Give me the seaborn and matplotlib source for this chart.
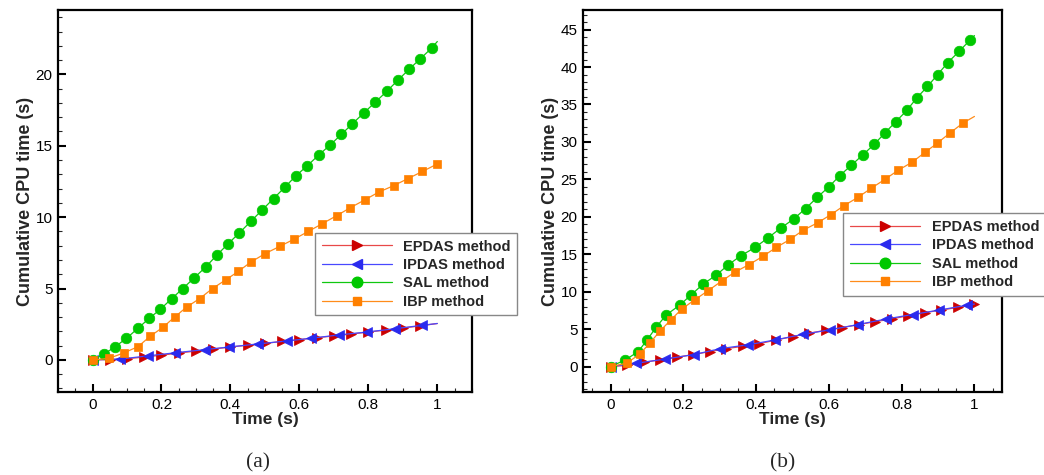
import numpy as np
import pandas as pd
import matplotlib
matplotlib.use("Agg")
import matplotlib.pyplot as plt
from matplotlib.ticker import MultipleLocator, FuncFormatter
from matplotlib.lines import Line2D
import seaborn as sns

# ---------------- data: panel (a) ----------------
a_epdas_t = [0, 0.05, 0.1, 0.15, 0.2, 0.25, 0.3, 0.35, 0.4, 0.45, 0.5, 0.55, 0.6, 0.65,
             0.7, 0.75, 0.8, 0.85, 0.9, 0.95, 1.0]
a_epdas_y = [0, 0.02, 0.08, 0.2, 0.33, 0.48, 0.62, 0.76, 0.9, 1.03, 1.16, 1.29, 1.42, 1.55,
             1.68, 1.81, 1.95, 2.09, 2.23, 2.38, 2.55]
a_ipdas_t = [0, 0.081, 0.16, 0.24, 0.325, 0.395, 0.48, 0.565, 0.635, 0.715, 0.795, 0.876, 0.955, 1.0]
a_ipdas_y = [0, 0.06, 0.28, 0.5, 0.72, 0.9, 1.12, 1.33, 1.52, 1.75, 1.95, 2.18, 2.42, 2.55]
a_sal_t = [0, 0.033, 0.066, 0.098, 0.131, 0.164, 0.197, 0.230, 0.262, 0.295, 0.328, 0.361,
           0.394, 0.426, 0.459, 0.492, 0.525, 0.558, 0.590, 0.623, 0.656, 0.689, 0.722, 0.754,
           0.787, 0.820, 0.853, 0.886, 0.918, 0.951, 0.984, 1.0]
a_sal_y = [0, 0.4, 0.93, 1.5, 2.2, 2.9, 3.55, 4.3, 5.0, 5.75, 6.5, 7.35, 8.15, 8.9, 9.7, 10.5,
           11.3, 12.1, 12.9, 13.6, 14.35, 15.05, 15.8, 16.55, 17.3, 18.05, 18.8, 19.6, 20.35,
           21.1, 21.85, 22.3]
a_ibp_t = [0, 0.047, 0.092, 0.132, 0.167, 0.205, 0.238, 0.273, 0.311, 0.348, 0.386, 0.423,
           0.459, 0.501, 0.543, 0.584, 0.626, 0.667, 0.708, 0.747, 0.789, 0.830, 0.873, 0.915,
           0.957, 0.998]
a_ibp_y = [0, 0.1, 0.5, 0.93, 1.65, 2.3, 3.0, 3.7, 4.3, 5.0, 5.6, 6.2, 6.85, 7.45, 7.95, 8.45,
           9.0, 9.55, 10.1, 10.65, 11.2, 11.75, 12.2, 12.7, 13.2, 13.7]

# ---------------- data: panel (b) ----------------
b_epdas_t = [0, 0.045, 0.091, 0.136, 0.182, 0.227, 0.273, 0.318, 0.364, 0.409, 0.455, 0.5,
             0.545, 0.591, 0.636, 0.682, 0.727, 0.773, 0.818, 0.864, 0.909, 0.955, 1.0]
b_epdas_y = [0, 0.15, 0.55, 0.9, 1.25, 1.6, 2.0, 2.4, 2.7, 3.05, 3.55, 4.0, 4.45, 4.85, 5.2,
             5.6, 6.0, 6.35, 6.8, 7.2, 7.55, 7.9, 8.3]
b_ipdas_t = [0, 0.071, 0.150, 0.229, 0.302, 0.377, 0.452, 0.529, 0.602, 0.679, 0.757, 0.830,
             0.904, 0.980, 1.0]
b_ipdas_y = [0, 0.45, 1.0, 1.6, 2.4, 2.9, 3.55, 4.3, 4.9, 5.6, 6.35, 6.95, 7.55, 8.2, 8.35]
b_sal_t = [0, 0.041, 0.076, 0.101, 0.126, 0.153, 0.190, 0.222, 0.254, 0.290, 0.324, 0.358,
           0.397, 0.433, 0.468, 0.503, 0.536, 0.568, 0.600, 0.630, 0.662, 0.694, 0.725, 0.754,
           0.784, 0.814, 0.842, 0.871, 0.899, 0.927, 0.958, 0.988, 1.0]
b_sal_y = [0, 0.9, 2.0, 3.6, 5.3, 6.9, 8.2, 9.6, 11.0, 12.2, 13.6, 14.8, 15.9, 17.2, 18.5,
           19.7, 21.1, 22.6, 24.0, 25.5, 26.9, 28.3, 29.7, 31.2, 32.7, 34.2, 35.9, 37.4, 39.0,
           40.6, 42.1, 43.6, 44.2]
b_ibp_t = [0, 0.044, 0.080, 0.109, 0.136, 0.165, 0.196, 0.231, 0.267, 0.305, 0.341, 0.380,
           0.418, 0.455, 0.494, 0.529, 0.569, 0.606, 0.642, 0.680, 0.716, 0.754, 0.790, 0.829,
           0.864, 0.897, 0.933, 0.968, 1.0]
b_ibp_y = [0, 0.45, 1.65, 3.2, 4.75, 6.2, 7.7, 8.9, 10.1, 11.4, 12.6, 13.6, 14.7, 15.9, 17.0,
           18.2, 19.2, 20.3, 21.5, 22.6, 23.8, 25.0, 26.2, 27.3, 28.6, 29.8, 31.2, 32.5, 33.4]

labels = ["EPDAS method", "IPDAS method", "SAL method", "IBP method"]
x_ticks = [0, 0.2, 0.4, 0.6, 0.8, 1.0]
a_y_ticks = [0, 5, 10, 15, 20]
b_y_ticks = [0, 5, 10, 15, 20, 25, 30, 35, 40, 45]

# ---------------- style ----------------
sns.set_style("white")
plt.rcParams["font.family"] = ["Liberation Sans", "DejaVu Sans"]

styles = [
    dict(line="#e84848", mk="#cc0000", marker=">", ms=6.5),
    dict(line="#4848ff", mk="#2a2aee", marker="<", ms=6.5),
    dict(line="#10c810", mk="#00c800", marker="o", ms=7.6),
    dict(line="#ff8c1a", mk="#ff8000", marker="s", ms=6.0),
]

fig = plt.figure(figsize=(10.44, 4.75), dpi=100)
ax_a = fig.add_axes([0.0556, 0.1747, 0.3963, 0.804])
ax_b = fig.add_axes([0.5587, 0.1747, 0.4008, 0.804])


def draw(ax, series, markevery_list, ylim, xlim, yticks):
    for (t, y), st, me in zip(series, styles, markevery_list):
        df = pd.DataFrame({"t": t, "y": y})
        sns.lineplot(data=df, x="t", y="y", ax=ax, sort=False, estimator=None,
                     color=st["line"], linewidth=0.9, marker=st["marker"],
                     markersize=st["ms"], markerfacecolor=st["mk"],
                     markeredgecolor=st["mk"], markeredgewidth=0.5,
                     markevery=me, legend=False)
    ax.set_xlim(*xlim)
    ax.set_ylim(*ylim)
    ax.set_xticks(x_ticks)
    ax.set_yticks(yticks)
    ax.xaxis.set_minor_locator(MultipleLocator(0.05))
    ax.yaxis.set_minor_locator(MultipleLocator(1))
    fmt = FuncFormatter(lambda v, p: "%g" % round(v, 4))
    ax.xaxis.set_major_formatter(fmt)
    ax.yaxis.set_major_formatter(fmt)
    ax.tick_params(axis="both", which="major", direction="in", length=6, width=1.5,
                   labelsize=11, colors="black", pad=4, bottom=True, left=True)
    ax.tick_params(axis="both", which="minor", direction="in", length=3, width=0.8,
                   bottom=True, left=True)
    ax.tick_params(top=False, right=False, which="both")
    for s in ax.spines.values():
        s.set_linewidth(1.6)
        s.set_color("black")
    ax.set_xlabel("Time (s)", fontsize=12.5, fontweight="bold", labelpad=0)
    ax.set_ylabel("Cumulative CPU time (s)", fontsize=13, fontweight="bold", labelpad=1)


draw(ax_a,
     [(a_epdas_t, a_epdas_y), (a_ipdas_t, a_ipdas_y), (a_sal_t, a_sal_y), (a_ibp_t, a_ibp_y)],
     [slice(0, -1), slice(0, -1), slice(0, -1), None],
     (-2.25, 24.5), (-0.1, 1.1), a_y_ticks)
draw(ax_b,
     [(b_epdas_t, b_epdas_y), (b_ipdas_t, b_ipdas_y), (b_sal_t, b_sal_y), (b_ibp_t, b_ibp_y)],
     [None, slice(0, -1), slice(0, -1), slice(0, -1)],
     (-3.4, 47.6), (-0.075, 1.075), b_y_ticks)

handles = [Line2D([0], [0], color=st["line"], linewidth=0.9, marker=st["marker"],
                  markersize=st["ms"], markerfacecolor=st["mk"], markeredgecolor=st["mk"])
           for st in styles]

for anchor in [(0.3017, 0.5095), (0.8078, 0.5509)]:
    leg = fig.legend(handles, labels, loc="upper left", bbox_to_anchor=anchor,
                     bbox_transform=fig.transFigure, frameon=True, fancybox=False,
                     framealpha=1, edgecolor="#888888", handlelength=4.8,
                     handletextpad=0.8, labelspacing=0.3, borderpad=0.45,
                     borderaxespad=0, numpoints=1,
                     prop={"weight": "bold", "size": 10.5})
    leg.get_frame().set_linewidth(1.0)

fig.text(0.247, 0.026, "(a)", ha="center", va="center", fontsize=15.5,
         family=["Liberation Serif", "DejaVu Serif"])
fig.text(0.750, 0.026, "(b)", ha="center", va="center", fontsize=15.5,
         family=["Liberation Serif", "DejaVu Serif"])

fig.savefig("out.png", dpi=100)
